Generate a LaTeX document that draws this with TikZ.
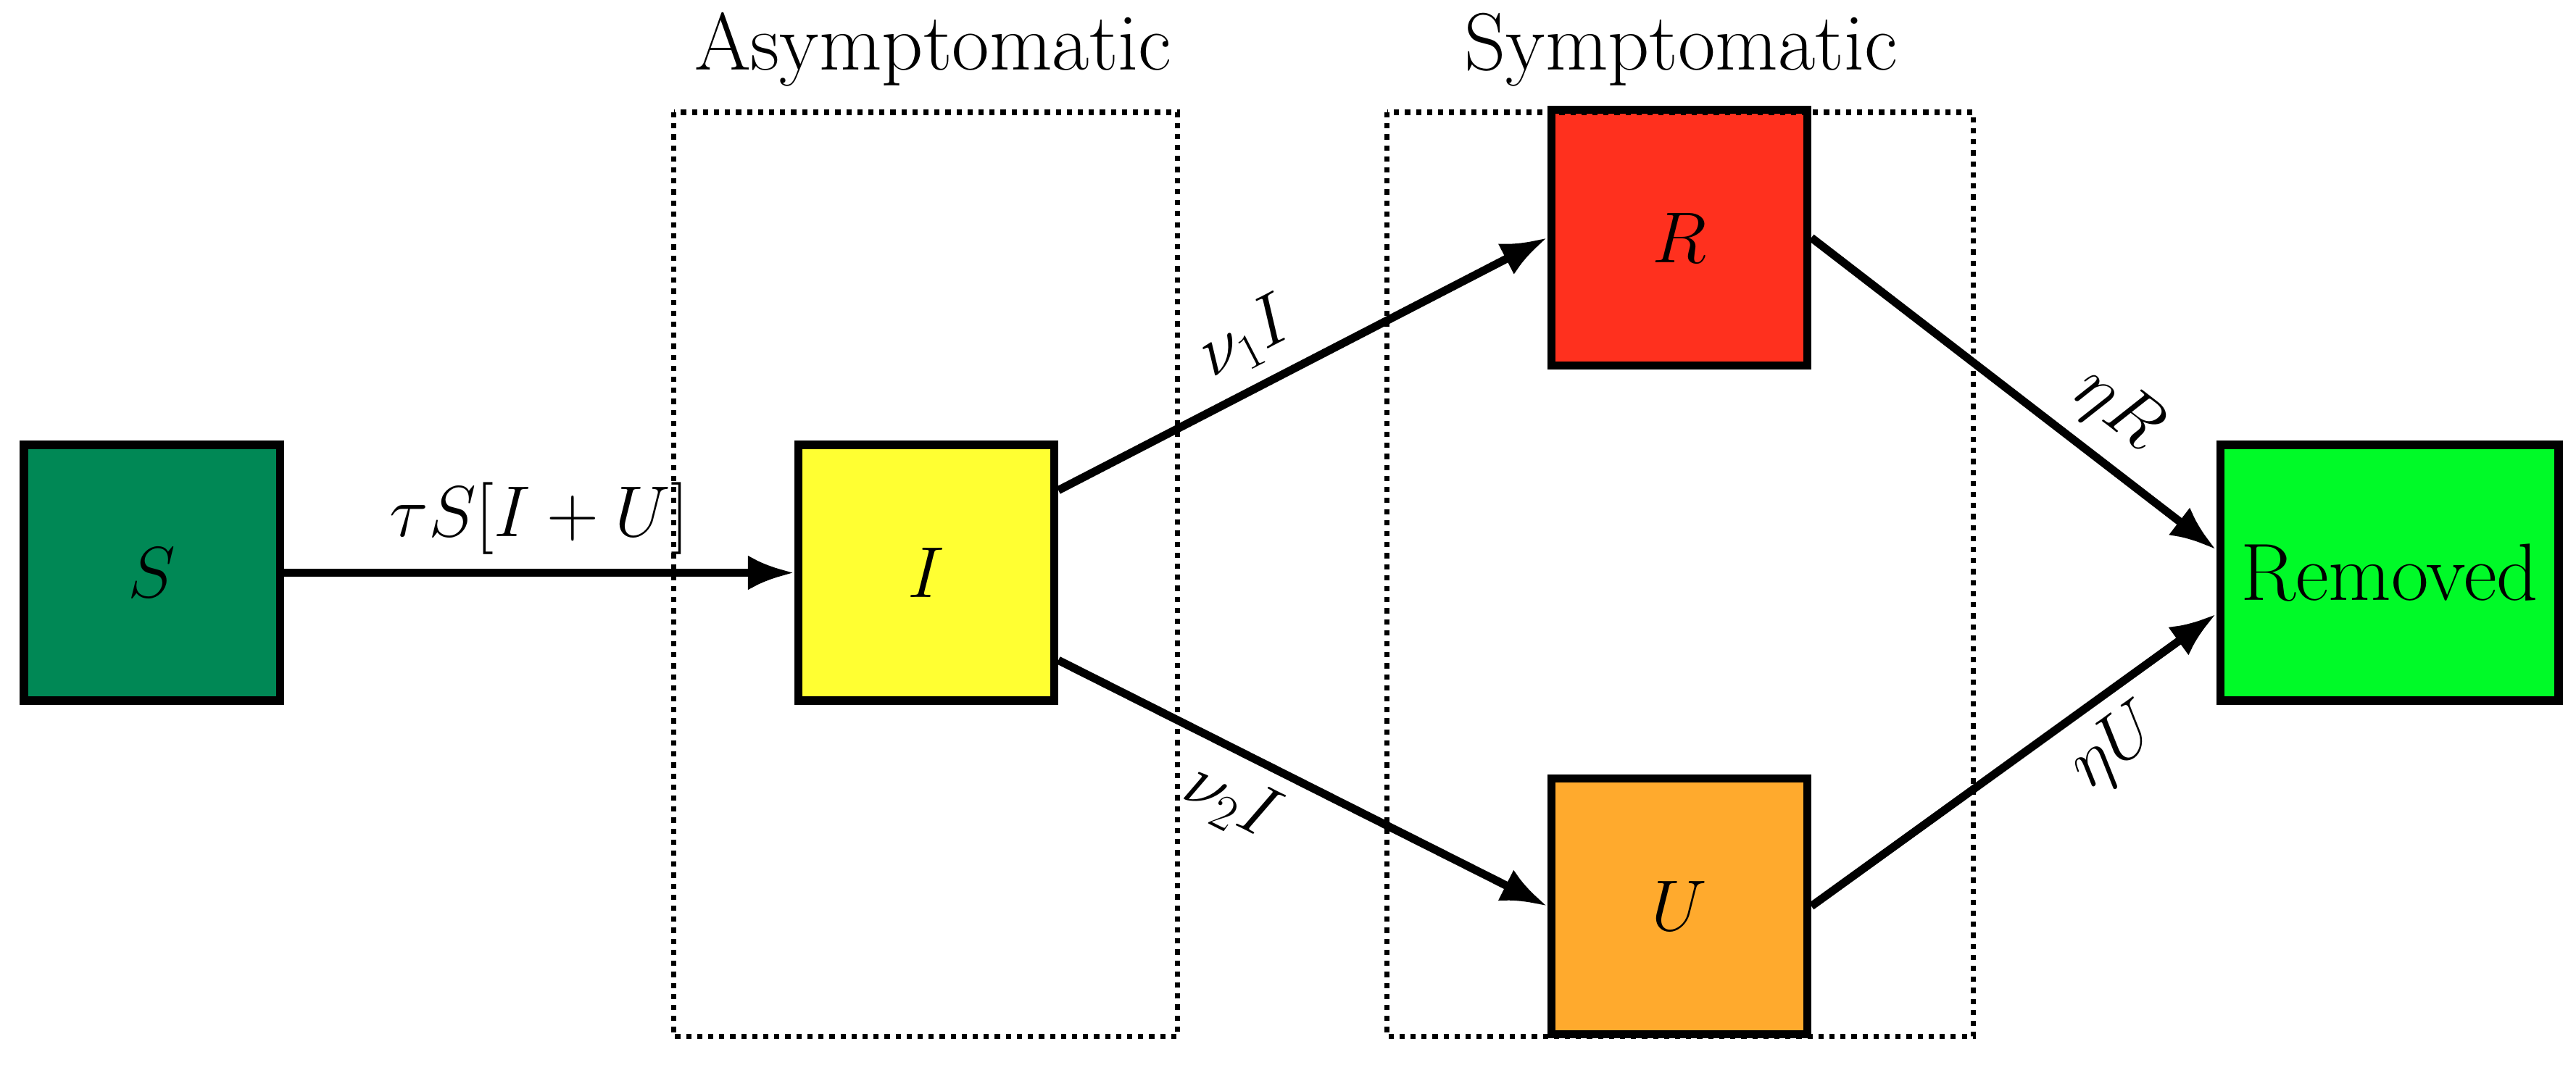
\documentclass[tikz,border=0pt]{standalone}
\usetikzlibrary{arrows.meta}
\definecolor{cS}{RGB}{0,136,85}
\definecolor{cI}{RGB}{255,255,50}
\definecolor{cR}{RGB}{255,48,30}
\definecolor{cU}{RGB}{255,170,45}
\definecolor{cRem}{RGB}{0,250,40}
\begin{document}
\begin{tikzpicture}[x=0.02cm,y=-0.02cm,
  box/.style={draw,line width=2.8pt,minimum width=3.1cm,minimum height=3.1cm,inner sep=0pt},
  big/.style={font=\fontsize{60}{66}\selectfont},
  arr/.style={line width=2.8pt,-{Latex[length=16pt,width=12pt]}},
  lab/.style={font=\fontsize{25}{28}\selectfont,sloped,inner sep=5pt},
  dot/.style={line width=1.8pt,dotted},
  ttl/.style={font=\fontsize{28}{32}\selectfont}]
\useasboundingbox (0,0) rectangle (1560,650);
\node[box,fill=cS,big] (S) at (92,347) {$S$};
\node[box,fill=cI,big] (I) at (561,347) {$I$};
\node[box,fill=cR,big] (R) at (1017,144) {$R$};
\node[box,fill=cU,big] (U) at (1017,549) {$U$};
\node[box,fill=cRem,minimum width=4.1cm,font=\fontsize{28}{32}\selectfont] (Rem) at (1447,347) {Removed};
\draw[dot] (408,68) rectangle (713,628);
\draw[dot] (840,68) rectangle (1195,628);
\node[ttl] (ta) at (565,30) {Asymptomatic};
\node[ttl] (ts) at (1018,30) {Symptomatic};
\draw[arr] (S.east) -- node[lab,above,pos=0.5]{$\tau S[I+U]$} (I.west);
\draw[arr] ([yshift=1cm]I.east) -- node[lab,above,pos=0.43]{$\nu_1 I$} (R.west);
\draw[arr] ([yshift=-1.06cm]I.east) -- node[lab,below,pos=0.4]{$\nu_2 I$} (U.west);
\draw[arr] (R.east) -- node[lab,above,pos=0.68]{$\eta R$} ([yshift=0.28cm]Rem.west);
\draw[arr] (U.east) -- node[lab,below,pos=0.68]{$\eta U$} ([yshift=-0.5cm]Rem.west);
\end{tikzpicture}
\end{document}
